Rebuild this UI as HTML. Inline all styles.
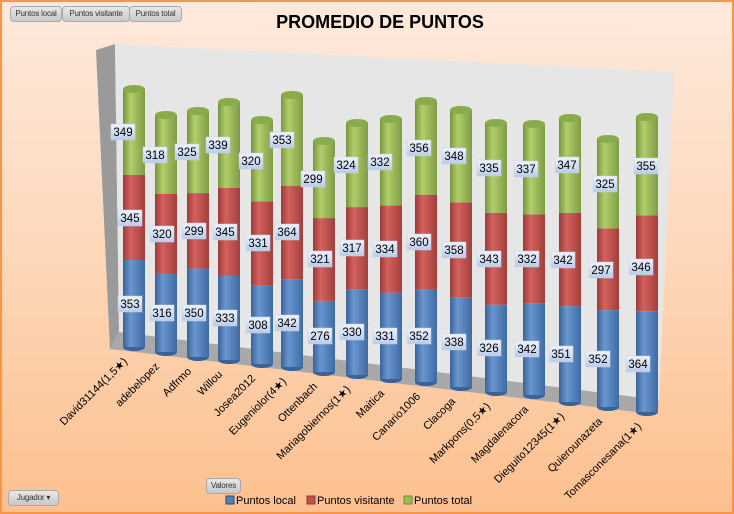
<!DOCTYPE html>
<html><head><meta charset="utf-8"><style>
html,body{margin:0;padding:0;}
body{width:734px;height:514px;overflow:hidden;font-family:"Liberation Sans",sans-serif;}
.wrap{position:relative;width:730px;height:510px;border:2px solid #f79646;background:linear-gradient(#fde9dc 0%,#fdd9bd 45%,#fcc08f 100%);}
.btn{position:absolute;height:14px;font-size:8px;line-height:14px;color:#333;background:linear-gradient(#e8e8e8,#c8c8c8);border:1px solid #aaa;border-radius:4px;padding:0;text-align:center;white-space:nowrap;overflow:hidden;letter-spacing:-0.2px;}
svg{position:absolute;left:0;top:0;}
</style></head><body><div class="wrap">
<svg width="730" height="510" id="s">
<defs>
<linearGradient id="gb" x1="0" x2="1"><stop offset="0" stop-color="#3b6298"/><stop offset=".35" stop-color="#6a96cf"/><stop offset="1" stop-color="#3f6aa3"/></linearGradient>
<linearGradient id="gr" x1="0" x2="1"><stop offset="0" stop-color="#9a3b38"/><stop offset=".35" stop-color="#d4615e"/><stop offset="1" stop-color="#a33f3c"/></linearGradient>
<linearGradient id="gg" x1="0" x2="1"><stop offset="0" stop-color="#78953f"/><stop offset=".35" stop-color="#b0cf6a"/><stop offset="1" stop-color="#7f9c45"/></linearGradient>
<linearGradient id="gl" x1="0" y1="0" x2="0" y2="1"><stop offset="0" stop-color="#eef3fb"/><stop offset="1" stop-color="#b9cbe8"/></linearGradient>
</defs>
<polygon points="94,48 113,42 117,330 108,347" fill="#9a9a9a"/>
<polygon points="113,42 672,70 657,398 117,330" fill="#e6e6e6"/>
<polygon points="108,347 117,330 657,398 651,412" fill="#a8a8a8"/>
<g id="bars"></g>
<g id="lbl"></g>
<g font-size="11.5" fill="#000" text-anchor="middle" id="vt">
<text x="128" y="306">353</text><text x="128" y="220">345</text><text x="121" y="134">349</text>
<text x="160" y="315">316</text><text x="160" y="236">320</text><text x="153" y="157">318</text>
<text x="192" y="315">350</text><text x="192" y="233">299</text><text x="185" y="154">325</text>
<text x="223" y="320">333</text><text x="223" y="234">345</text><text x="216" y="147">339</text>
<text x="256" y="327">308</text><text x="256" y="245">331</text><text x="249" y="163">320</text>
<text x="285" y="325">342</text><text x="285" y="234">364</text><text x="280" y="142">353</text>
<text x="318" y="338">276</text><text x="318" y="261">321</text><text x="311" y="181">299</text>
<text x="350" y="334">330</text><text x="350" y="250">317</text><text x="344" y="167">324</text>
<text x="383" y="338">331</text><text x="383" y="251">334</text><text x="378" y="164">332</text>
<text x="417" y="338">352</text><text x="417" y="244">360</text><text x="417" y="150">356</text>
<text x="452" y="344">338</text><text x="452" y="252">358</text><text x="452" y="158">348</text>
<text x="487" y="350">326</text><text x="487" y="261">343</text><text x="487" y="170">335</text>
<text x="525" y="351">342</text><text x="525" y="261">332</text><text x="524" y="171">337</text>
<text x="559" y="356">351</text><text x="561" y="262">342</text><text x="565" y="167">347</text>
<text x="596" y="361">352</text><text x="599" y="272">297</text><text x="603" y="186">325</text>
<text x="636" y="366">364</text><text x="639" y="269">346</text><text x="644" y="168">355</text>
</g>
<g font-size="11" fill="#000" text-anchor="end">
<text transform="translate(126,360) rotate(-45)">David31144(1,5★)</text>
<text transform="translate(158,365) rotate(-45)">adebelopez</text>
<text transform="translate(190,370) rotate(-45)">Adfrmo</text>
<text transform="translate(221,373) rotate(-45)">Willou</text>
<text transform="translate(254,377) rotate(-45)">Josea2012</text>
<text transform="translate(285,380) rotate(-45)">Eugeniolor(4★)</text>
<text transform="translate(316,385) rotate(-45)">Ottenbach</text>
<text transform="translate(349,388) rotate(-45)">Mariagobiernos(1★)</text>
<text transform="translate(383,392) rotate(-45)">Maitica</text>
<text transform="translate(419,395) rotate(-45)">Canario1006</text>
<text transform="translate(454,400) rotate(-45)">Clacoga</text>
<text transform="translate(489,405) rotate(-45)">Markpons(0,5★)</text>
<text transform="translate(527,408) rotate(-45)">Magdalenacora</text>
<text transform="translate(563,415) rotate(-45)">Dieguito12345(1★)</text>
<text transform="translate(601,420) rotate(-45)">Quierounazeta</text>
<text transform="translate(640,425) rotate(-45)">Tomasconesana(1★)</text>
</g>
<text x="378" y="26" font-size="18" font-weight="bold" text-anchor="middle" fill="#000">PROMEDIO DE PUNTOS</text>
<rect x="224" y="494" width="8" height="8" fill="#4f81bd" stroke="#2c4d75"/><text x="234" y="502" font-size="11">Puntos local</text>
<rect x="305" y="494" width="8" height="8" fill="#c0504d" stroke="#8c3836"/><text x="315" y="502" font-size="11">Puntos visitante</text>
<rect x="402" y="494" width="8" height="8" fill="#9bbb59" stroke="#71893f"/><text x="412" y="502" font-size="11">Puntos total</text>
</svg>
<div class="btn" style="left:8px;top:4px;width:50px">Puntos local</div>
<div class="btn" style="left:60px;top:4px;width:66px">Puntos visitante</div>
<div class="btn" style="left:127px;top:4px;width:51px">Puntos total</div>
<div class="btn" style="left:204px;top:476px;width:33px">Valores</div>
<div class="btn" style="left:6px;top:488px;width:49px">Jugador &#9662;</div>
</div>
<script>
var d=[[132,87,345,353,345,349],[164,113,350,316,320,318],[196,109,355,350,299,325],[227,100,358,333,345,339],[260,118,362,308,331,320],[290,93,365,342,364,353],[322,139,370,276,321,299],[355,121,373,330,317,324],[389,117,377,331,334,332],[424,99,380,352,360,356],[459,108,385,338,358,348],[494,121,390,326,343,335],[532,122,393,342,332,337],[568,116,400,351,342,347],[606,137,405,352,297,325],[645,115,410,364,346,355]];
var ns="http://www.w3.org/2000/svg",g=document.getElementById("bars"),L=document.getElementById("lbl");
function el(t,a,p){var e=document.createElementNS(ns,t);for(var k in a)e.setAttribute(k,a[k]);p.appendChild(e);return e;}
var w=11;
d.forEach(function(b){var cx=b[0],T=b[1],B=b[2],s=b[3]+b[4]+b[5],H=B-T;
var y1=B-b[3]/s*H,y2=y1-b[4]/s*H;
el("ellipse",{cx:cx,cy:B,rx:w,ry:4,fill:"#3b6298"},g);
el("rect",{x:cx-w,y:y1,width:2*w,height:B-y1,fill:"url(#gb)"},g);
el("rect",{x:cx-w,y:y2,width:2*w,height:y1-y2,fill:"url(#gr)"},g);
el("rect",{x:cx-w,y:T,width:2*w,height:y2-T,fill:"url(#gg)"},g);
el("ellipse",{cx:cx,cy:T,rx:w,ry:4,fill:"#8aab4a"},g);});
document.querySelectorAll("#vt text").forEach(function(t){var x=+t.getAttribute("x"),y=+t.getAttribute("y");
el("rect",{x:x-12,y:y-12,width:24,height:16,fill:"url(#gl)",stroke:"#c5d3ea","stroke-width":.5},L);});
</script>
</body></html>
